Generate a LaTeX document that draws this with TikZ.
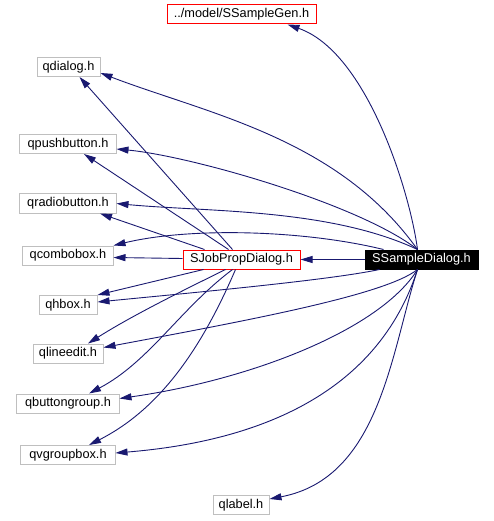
\documentclass[tikz,border=0pt]{standalone}
\usepackage{fontspec}
\setmainfont{Liberation Sans}
\usetikzlibrary{arrows.meta,calc}
\definecolor{edgeblue}{HTML}{191970}
\definecolor{boxgray}{HTML}{BFBFBF}
\begin{document}
\begin{tikzpicture}[x=1bp,y=-1bp,
  box/.style={draw=boxgray, line width=1bp, inner sep=0pt, minimum height=19bp, font=\fontsize{12.8}{15}\selectfont},
  redbox/.style={box, draw=red},
  darkbox/.style={box, draw=black, fill=black, text=white},
  dep/.style={draw=edgeblue, line width=0.9bp, -{Triangle[length=12bp,width=7bp]}}]
\useasboundingbox (0,0) rectangle (494,521);

\node[redbox, minimum width=149bp] (sgen) at (241.5,14.5) {../model/SSampleGen.h};
\node[box, minimum width=63bp] (qdialog) at (68.5,67) {qdialog.h};
\node[box, minimum width=96bp] (qpush) at (68,144) {qpushbutton.h};
\node[box, minimum width=96bp] (qradio) at (68,203.5) {qradiobutton.h};
\node[box, minimum width=90bp] (qcombo) at (68,255.5) {qcombobox.h};
\node[redbox, minimum width=117bp] (sjpd) at (241.5,259.5) {SJobPropDialog.h};
\node[darkbox, minimum width=113bp] (ssd) at (421.5,259.5) {SSampleDialog.h};
\node[box, minimum width=58bp] (qhbox) at (68,305) {qhbox.h};
\node[box, minimum width=70bp] (qline) at (68,353.5) {qlineedit.h};
\node[box, minimum width=102bp] (qbg) at (68,403.5) {qbuttongroup.h};
\node[box, minimum width=94bp] (qvg) at (68,455) {qvgroupbox.h};
\node[box, minimum width=56bp] (qlabel) at (241,505) {qlabel.h};

% from SSampleDialog (top)
\draw[dep] ($(ssd.north)+(-4,0)$) .. controls (410,192) and (367,52) .. ($(sgen.south)+(46,0)$);
\draw[dep] ($(ssd.north)+(-4,0)$) .. controls (338,138) and (208,114) .. ($(qdialog.east)+(0,6)$);
\draw[dep] ($(ssd.north)+(-4,0)$) .. controls (359,204) and (191,156) .. ($(qpush.east)+(0,5)$);
\draw[dep] ($(ssd.north)+(-4,0)$) .. controls (329,208) and (206,212) .. (qradio.east);
\draw[dep] ($(ssd.north)+(-38,0)$) .. controls (304,230) and (190,227) .. ($(qcombo.east)+(0,-10)$);
\draw[dep] (ssd.west) -- (sjpd.east);
% from SSampleDialog (bottom)
\draw[dep] ($(ssd.south)+(-42,0)$) .. controls (330,280) and (200,292) .. ($(qhbox.east)+(0,-3)$);
\draw[dep] ($(ssd.south)+(-4,0)$) .. controls (385,295) and (250,320) .. ($(qline.east)+(0,-6)$);
\draw[dep] ($(ssd.south)+(-4,0)$) .. controls (380,330) and (250,380) .. ($(qbg.east)+(0,-5)$);
\draw[dep] ($(ssd.south)+(-4,0)$) .. controls (374,405) and (238,443) .. ($(qvg.east)+(0,-2)$);
\draw[dep] ($(ssd.south)+(-4,0)$) .. controls (391,352) and (380,478) .. ($(qlabel.east)+(0,-6)$);

% from SJobPropDialog
\draw[dep] ($(sjpd.west)+(0,-1)$) -- ($(qcombo.east)+(0,2)$);
\draw[dep] ($(sjpd.north)+(-37,0)$) -- ($(qradio.south)+(32,0)$);
\draw[dep] ($(sjpd.north)+(-13,0)$) -- ($(qpush.south)+(16,0)$);
\draw[dep] ($(sjpd.north)+(-9,0)$) -- ($(qdialog.south)+(11,0)$);
\draw[dep] ($(sjpd.south)+(-38,0)$) -- (qhbox.north east);
\draw[dep] ($(sjpd.south)+(-16,0)$) .. controls (186,289) and (133,315) .. ($(qline.north)+(20,0)$);
\draw[dep] ($(sjpd.south)+(-9,0)$) .. controls (180,309) and (149,362) .. ($(qbg.north)+(21,0)$);
\draw[dep] ($(sjpd.south)+(-6,0)$) .. controls (203,345) and (162,408) .. ($(qvg.north)+(21,0)$);
\end{tikzpicture}
\end{document}
